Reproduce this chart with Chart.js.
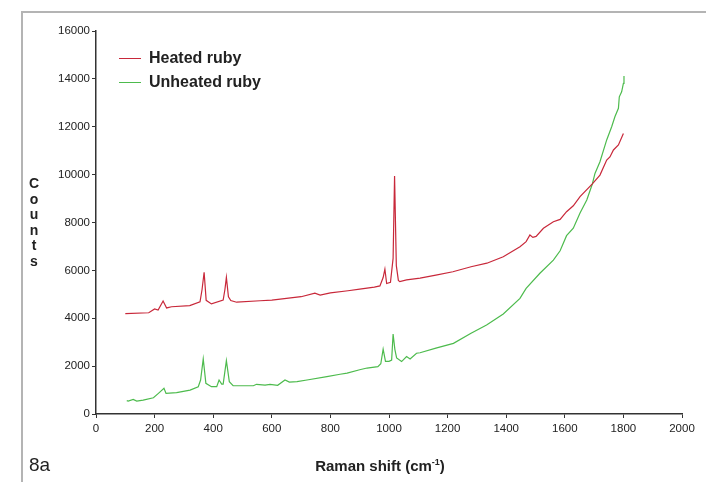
<!DOCTYPE html>
<html>
<head>
<meta charset="utf-8">
<script src="https://cdn.jsdelivr.net/npm/chart.js@4/dist/chart.umd.min.js"></script>
<style>
  html, body { margin: 0; padding: 0; background: #fff; }
  #wrap { position: relative; width: 706px; height: 482px; overflow: hidden; font-family: "Liberation Sans", Arial, sans-serif; }
  #frameTop { position: absolute; left: 21px; top: 11px; width: 700px; height: 2px; background: #b4b4b4; }
  #frameLeft { position: absolute; left: 21px; top: 11px; width: 2px; height: 480px; background: #b4b4b4; }
  canvas { position: absolute; left: 0; top: 0; }
  .txt { position: absolute; color: #222; white-space: nowrap; }
  #legend .row { position: absolute; left: 119px; width: 200px; height: 20px; white-space: nowrap; }
  #legend .sw { position: absolute; left: 0; top: 10px; width: 22px; height: 1px; }
  #legend .lab { position: absolute; left: 30px; top: 0; font-weight: bold; font-size: 16px; line-height: 20px; color: #222; white-space: nowrap; }
  #ytitle { left: 27px; top: 176px; width: 14px; text-align: center; font-weight: bold; font-size: 14px; line-height: 15.6px; }
  #xtitle { left: 300px; top: 457px; width: 160px; text-align: center; font-weight: bold; font-size: 15px; }
  #xtitle sup { font-size: 9px; }
  #fig { left: 29px; top: 454px; font-size: 19px; }
</style>
</head>
<body>
<div id="wrap">
  <canvas id="c" width="706" height="482"></canvas>
  <div id="frameTop"></div>
  <div id="frameLeft"></div>
  <div id="legend"></div>
  <div class="txt" id="ytitle">C<br>o<br>u<br>n<br>t<br>s</div>
  <div class="txt" id="xtitle">Raman shift (cm<sup>-1</sup>)</div>
  <div class="txt" id="fig">8a</div>
</div>
<script>
// ---- Data ----
const seriesNames = ["Heated ruby", "Unheated ruby"];
const seriesColors = ["#c8283a", "#4dbb4d"];

const heatedX = [100,180,200,212,229,241,258,320,355,362,369,376,394,434,440,445,452,460,480,560,600,650,700,747,765,800,860,900,950,969,980,986,992,1005,1014,1019,1025,1032,1037,1060,1106,1160,1218,1280,1334,1390,1447,1468,1481,1491,1502,1527,1561,1584,1606,1629,1652,1694,1720,1743,1754,1766,1783,1800];
const heatedY = [4190,4230,4390,4340,4720,4430,4480,4530,4690,5200,5920,4750,4600,4760,5200,5710,4900,4740,4670,4730,4760,4830,4900,5050,4970,5060,5150,5220,5300,5350,5700,6050,5450,5500,6500,9940,6200,5580,5530,5600,5680,5800,5944,6150,6300,6570,6990,7200,7480,7380,7420,7760,8030,8130,8450,8700,9080,9610,9980,10610,10740,11030,11240,11720];

const unheatedX = [105,110,127,139,161,196,213,232,239,275,321,349,357,366,375,394,412,420,429,434,445,455,468,537,548,577,594,620,645,660,686,720,788,833,857,900,925,962,972,980,988,1000,1009,1014,1020,1026,1043,1060,1072,1094,1106,1160,1220,1280,1333,1390,1447,1468,1515,1561,1584,1606,1629,1652,1675,1694,1703,1720,1743,1760,1771,1783,1786,1794,1800,1802];
const unheatedY = [560,540,610,540,580,680,860,1070,860,890,1000,1140,1420,2300,1280,1140,1140,1420,1250,1250,2230,1350,1180,1180,1240,1210,1240,1200,1420,1330,1350,1420,1560,1660,1710,1850,1920,1980,2100,2710,2200,2200,2250,3340,2700,2340,2190,2400,2300,2540,2560,2750,2950,3370,3720,4180,4830,5250,5880,6430,6820,7450,7760,8400,8940,9610,10050,10540,11450,12000,12420,12770,13250,13460,13810,14120];

const xTicks = [0,200,400,600,800,1000,1200,1400,1600,1800,2000];
const yTicks = [0,2000,4000,6000,8000,10000,12000,14000,16000];

// ---- Legend (HTML text) ----
const legendTops = [48, 72];
const legend = document.getElementById('legend');
seriesNames.forEach((n, i) => {
  const row = document.createElement('div');
  row.className = 'row';
  row.style.top = legendTops[i] + 'px';
  row.innerHTML = '<div class="sw" style="background:' + seriesColors[i] + '"></div><div class="lab">' + n + '</div>';
  legend.appendChild(row);
});

const toPts = (xs, ys) => xs.map((x, i) => ({x: x, y: ys[i]}));

const axisColor = '#333';
const tickFont = { family: 'Liberation Sans, Arial, sans-serif', size: 11.5 };
new Chart(document.getElementById('c'), {
  type: 'line',
  data: {
    datasets: [
      { label: seriesNames[0], data: toPts(heatedX, heatedY), borderColor: seriesColors[0], borderWidth: 1.2, pointRadius: 0, tension: 0, fill: false },
      { label: seriesNames[1], data: toPts(unheatedX, unheatedY), borderColor: seriesColors[1], borderWidth: 1.2, pointRadius: 0, tension: 0, fill: false }
    ]
  },
  options: {
    responsive: false,
    animation: false,
    devicePixelRatio: 1,
    layout: { padding: { top: 31, right: 24, left: 0, bottom: 0 } },
    plugins: { legend: { display: false }, tooltip: { enabled: false } },
    scales: {
      x: {
        type: 'linear', min: 0, max: 2000,
        afterBuildTicks: s => { s.ticks = xTicks.map(v => ({value: v})); },
        afterFit: s => { s.height = 68; },
        grid: { display: true, drawOnChartArea: false, drawTicks: true, tickLength: 4, color: axisColor, lineWidth: 1 },
        border: { display: true, color: axisColor, width: 1.5 },
        ticks: { color: '#222', font: tickFont, padding: 4, maxRotation: 0, autoSkip: false, callback: v => String(v) }
      },
      y: {
        min: 0, max: 16000,
        afterBuildTicks: s => { s.ticks = yTicks.map(v => ({value: v})); },
        afterFit: s => { s.width = 96; },
        grid: { display: true, drawOnChartArea: false, drawTicks: true, tickLength: 4, color: axisColor, lineWidth: 1 },
        border: { display: true, color: axisColor, width: 1.5 },
        ticks: { color: '#222', font: tickFont, padding: 2, autoSkip: false, callback: v => String(v) }
      }
    }
  }
});
</script>
</body>
</html>
